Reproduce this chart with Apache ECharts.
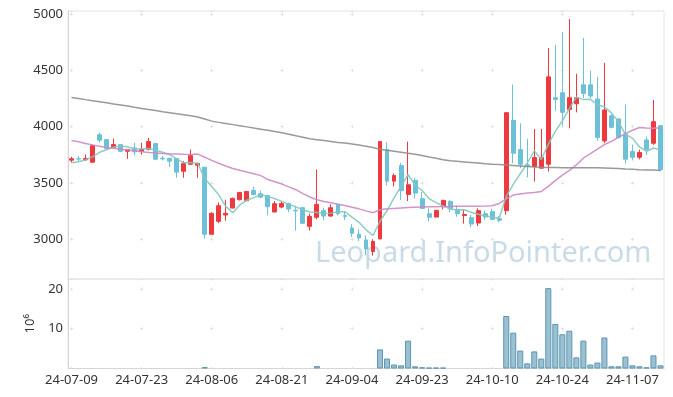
<!DOCTYPE html>
<html>
<head>
<meta charset="utf-8">
<script src="https://cdn.jsdelivr.net/npm/echarts@6/dist/echarts.min.js"></script>
<style>
  html, body { margin: 0; background: #fff; }
  #chart { width: 673px; height: 397px; }
</style>
</head>
<body>
<div id="chart"></div>
<script>
// jours de bourse (KRX), étiquette tous les 10 jours
const dates = [
  "24-07-09","24-07-10","24-07-11","24-07-12","24-07-15","24-07-16","24-07-17","24-07-18","24-07-19","24-07-22",
  "24-07-23","24-07-24","24-07-25","24-07-26","24-07-29","24-07-30","24-07-31","24-08-01","24-08-02","24-08-05",
  "24-08-06","24-08-07","24-08-08","24-08-09","24-08-12","24-08-13","24-08-14","24-08-16","24-08-19","24-08-20",
  "24-08-21","24-08-22","24-08-23","24-08-26","24-08-27","24-08-28","24-08-29","24-08-30","24-09-02","24-09-03",
  "24-09-04","24-09-05","24-09-06","24-09-09","24-09-10","24-09-11","24-09-12","24-09-13","24-09-19","24-09-20",
  "24-09-23","24-09-24","24-09-25","24-09-26","24-09-27","24-09-30","24-10-02","24-10-04","24-10-07","24-10-08",
  "24-10-10","24-10-11","24-10-14","24-10-15","24-10-16","24-10-17","24-10-18","24-10-21","24-10-22","24-10-23",
  "24-10-24","24-10-25","24-10-28","24-10-29","24-10-30","24-10-31","24-11-01","24-11-04","24-11-05","24-11-06",
  "24-11-07","24-11-08","24-11-11","24-11-12","24-11-13"
];

// [ouverture, clôture, plus bas, plus haut]
const ohlc = [
  [3702,3715,3680,3732],[3716,3712,3692,3740],[3706,3718,3697,3752],[3684,3832,3682,3838],[3929,3879,3858,3947],
  [3885,3805,3797,3885],[3814,3841,3805,3894],[3841,3781,3775,3841],[3781,3796,3714,3800],[3811,3776,3746,3856],
  [3781,3799,3750,3856],[3799,3867,3788,3900],[3850,3711,3705,3855],[3720,3714,3700,3740],[3719,3693,3640,3725],
  [3717,3596,3546,3720],[3604,3672,3546,3695],[3666,3743,3660,3796],[3658,3673,3546,3680],[3640,3044,3006,3640],
  [3044,3230,3044,3240],[3159,3298,3144,3327],[3215,3230,3165,3351],[3277,3363,3275,3370],[3351,3416,3345,3420],
  [3342,3425,3338,3428],[3434,3398,3390,3466],[3404,3374,3365,3430],[3389,3289,3212,3395],[3242,3316,3240,3340],
  [3286,3318,3275,3340],[3318,3268,3240,3325],[3258,3252,3077,3290],[3280,3142,3135,3290],[3115,3203,3077,3227],
  [3195,3310,3177,3620],[3254,3206,3170,3280],[3206,3280,3200,3310],[3310,3227,3210,3315],[3210,3203,3170,3245],
  [3100,3053,3020,3133],[3044,3011,2985,3088],[2994,2914,2858,3035],[2891,2980,2855,3000],[3003,3867,3003,3867],
  [3796,3516,3478,3861],[3516,3566,3469,3584],[3655,3431,3348,3679],[3398,3484,3339,3867],[3522,3410,3360,3545],
  [3360,3274,3270,3420],[3227,3195,3157,3274],[3197,3257,3195,3260],[3289,3345,3265,3350],[3336,3271,3240,3350],
  [3265,3227,3200,3300],[3210,3220,3139,3265],[3192,3135,3107,3215],[3144,3254,3117,3274],[3227,3197,3172,3255],
  [3245,3177,3170,3270],[3183,3168,3150,3205],[3254,4124,3218,4124],[4056,3764,3675,4374],[3796,3666,3631,4029],
  [3661,3646,3549,3891],[3646,3726,3513,3980],[3631,3726,3631,3980],[3666,4442,3602,4699],[4257,4242,4140,4726],
  [4301,4127,4010,4838],[4153,4257,3985,4956],[4204,4257,4127,4469],[4372,4295,4254,4788],[4372,4272,4250,4496],
  [4245,3903,3873,4442],[3873,4148,3852,4566],[4097,3994,3985,4110],[4068,3903,3895,4075],[3935,3711,3675,4197],
  [3779,3728,3700,3840],[3728,3770,3710,3795],[3882,3794,3750,3912],[3852,4044,3838,4236],[4009,3617,3603,4015]
];

// volume, en millions (0 = pas de barre visible)
const volume = [
  0,0,0,0,0,0,0,0,0,0,
  0,0,0,0,0,0,0,0,0,0.35,
  0,0,0,0,0,0,0,0,0,0,
  0,0,0,0,0,0.6,0,0,0,0,
  0,0,0,0,4.8,2.5,1.0,0.8,7.0,0.55,
  0.3,0.2,0.2,0.2,0,0,0,0,0,0,
  0,0,13.2,9.0,4.5,1.3,4.3,2.5,20.2,11.2,
  8.6,9.5,2.8,7.0,1.0,1.5,7.8,0.55,0.55,3.0,
  0.8,0.55,0.3,3.3,0.8
];

const ma5 = [
  3679,3688,3705,3732,3772,3795,3818,3830,3820,3803,
  3801,3805,3790,3772,3752,3714,3679,3682,3675,3540,
  3468,3395,3292,3236,3305,3347,3370,3395,3381,3360,
  3336,3310,3288,3262,3242,3238,3228,3232,3245,3245,
  3196,3150,3084,3035,3160,3255,3368,3470,3575,3482,
  3433,3360,3325,3296,3268,3260,3262,3240,3222,3207,
  3198,3187,3380,3488,3582,3675,3786,3708,3842,3958,
  4052,4160,4262,4240,4243,4197,4175,4122,4045,3932,
  3898,3820,3782,3810,3792
];

const ma20 = [
  3876,3866,3850,3838,3826,3815,3808,3800,3792,3785,
  3777,3770,3766,3762,3758,3756,3754,3753,3756,3728,
  3700,3675,3650,3628,3612,3598,3582,3565,3530,3510,
  3490,3465,3440,3405,3375,3350,3336,3325,3310,3300,
  3285,3270,3252,3236,3262,3270,3274,3278,3282,3285,
  3287,3288,3289,3290,3291,3292,3292,3293,3294,3295,
  3297,3318,3358,3392,3402,3410,3416,3425,3470,3520,
  3570,3612,3660,3720,3760,3800,3840,3870,3905,3938,
  3968,3992,3988,3986,3991
];

const ma120 = [
  4259,4250,4240,4231,4222,4212,4202,4193,4183,4172,
  4162,4152,4143,4133,4124,4114,4105,4096,4086,4068,
  4049,4038,4028,4018,4008,3998,3987,3977,3967,3956,
  3946,3933,3919,3906,3892,3884,3876,3868,3860,3855,
  3846,3836,3826,3815,3798,3790,3782,3773,3764,3755,
  3744,3731,3719,3706,3698,3692,3687,3682,3677,3671,
  3667,3664,3660,3655,3650,3645,3641,3639,3638,3637,
  3636,3636,3635,3635,3634,3634,3632,3630,3628,3624,
  3621,3618,3616,3614,3611
];

const police = "'Noto Sans', sans-serif";
const encre = "#333";
const croix = "#e0e0e0";
const cadre = "#e4e4e4";
const rouge = "#ee3a3f";
const bleu = "#6cc1d9";

const chart = echarts.init(document.getElementById("chart"), null, { renderer: "canvas" });

chart.setOption({
  animation: false,
  backgroundColor: "#fff",
  textStyle: { fontFamily: police },
  grid: [
    { left: 68, right: 9, top: 11, height: 268, show: true, borderColor: cadre, borderWidth: 1 },
    { left: 68, right: 9, top: 279, height: 89.5, show: true, borderColor: cadre, borderWidth: 1 }
  ],
  xAxis: [
    {
      type: "category", gridIndex: 0, data: dates, boundaryGap: true,
      axisLine: { show: false }, axisTick: { show: false }, axisLabel: { show: false },
      splitLine: { show: true, interval: 9, alignWithLabel: true,
        lineStyle: { color: croix, width: 1, type: [3, 53.3], dashOffset: 54.76 } }
    },
    {
      type: "category", gridIndex: 1, data: dates, boundaryGap: true,
      axisLine: { show: true, lineStyle: { color: "#d6d6d6" } }, axisTick: { show: false },
      axisLabel: { interval: 9, color: encre, fontSize: 13, fontFamily: police, margin: 5 },
      splitLine: { show: true, interval: 9, alignWithLabel: true,
        lineStyle: { color: croix, width: 1, type: [3, 36.78], dashOffset: 31.34 } }
    }
  ],
  yAxis: [
    {
      type: "value", gridIndex: 0, min: 2647, max: 5027, scale: true,
      axisLine: { show: true, lineStyle: { color: "#d6d6d6" } }, axisTick: { show: false },
      axisLabel: { color: encre, fontSize: 13, fontFamily: police, margin: 5,
        formatter: (v) => (v % 500 === 0 ? String(v) : "") },
      splitLine: { show: true, lineStyle: { color: croix, width: 1, type: [3, 67.12], dashOffset: 68.12 } }
    },
    {
      type: "value", gridIndex: 1, min: 0, max: 22.5, interval: 10,
      name: "10⁶", nameLocation: "middle", nameGap: 26, nameRotate: 90,
      nameTextStyle: { color: encre, fontSize: 13, fontFamily: police },
      axisLine: { show: true, lineStyle: { color: "#d6d6d6" } }, axisTick: { show: false },
      axisLabel: { color: encre, fontSize: 13, fontFamily: police, margin: 5,
        formatter: (v) => (v === 10 || v === 20 ? String(v) : "") },
      splitLine: { show: true, lineStyle: { color: croix, width: 1, type: [3, 67.12], dashOffset: 68.12 } }
    }
  ],
  graphic: [
    {
      type: "text", left: 315, top: 239, z: 1, silent: true,
      style: { text: "Leopard.InfoPointer.com", fontSize: 29, fontFamily: police, fill: "#c9dbe7" }
    }
  ],
  series: [
    {
      name: "cours", type: "candlestick", xAxisIndex: 0, yAxisIndex: 0, data: ohlc, barWidth: 4.4,
      itemStyle: { color: rouge, color0: bleu, borderColor: rouge, borderColor0: bleu, borderWidth: 1 }
    },
    {
      name: "MA5", type: "line", xAxisIndex: 0, yAxisIndex: 0, data: ma5, symbol: "none",
      lineStyle: { color: "#84c8bc", width: 1.5, opacity: 0.9 }, z: 3
    },
    {
      name: "MA20", type: "line", xAxisIndex: 0, yAxisIndex: 0, data: ma20, symbol: "none",
      lineStyle: { color: "#cc8ac5", width: 1.5, opacity: 0.9 }, z: 3
    },
    {
      name: "MA120", type: "line", xAxisIndex: 0, yAxisIndex: 0, data: ma120, symbol: "none",
      lineStyle: { color: "#8e8e8e", width: 1.5, opacity: 0.9 }, z: 3
    },
    {
      name: "volume", type: "bar", xAxisIndex: 1, yAxisIndex: 1,
      data: volume.map((v) => (v > 0 ? v : "-")), barWidth: "86%",
      itemStyle: { color: "rgba(128,176,200,0.8)", borderColor: "#5e95ae", borderWidth: 1 }
    }
  ]
});
</script>
</body>
</html>
